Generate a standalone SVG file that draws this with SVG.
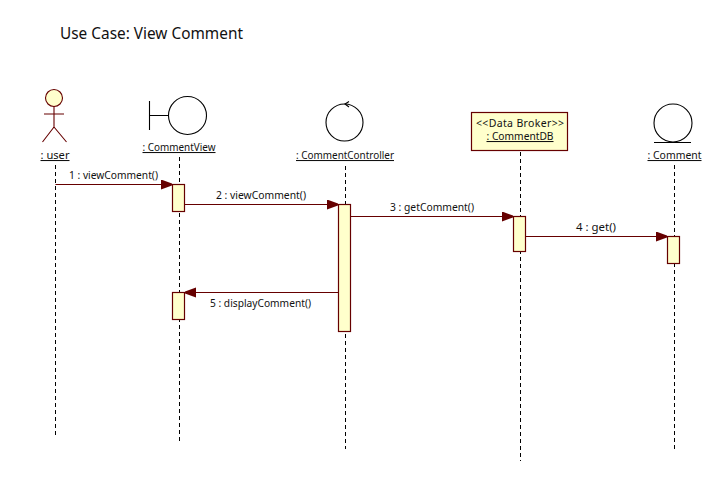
<svg xmlns="http://www.w3.org/2000/svg" width="728" height="481" viewBox="0 0 728 481">
<style>
text{font-family:"Noto Sans","Open Sans",sans-serif;font-size:10.5px;fill:#111}
.u{text-decoration:underline}
.m{text-anchor:middle}
.life{stroke:#000;stroke-width:1;stroke-dasharray:4 3;fill:none}
.act{fill:#ffffcc;stroke:#660000;stroke-width:1.2}
.msg{stroke:#660000;stroke-width:1.2;fill:none;marker-end:url(#ah)}
.ic{fill:#fff;stroke:#000;stroke-width:1.1}
.ln{fill:none;stroke:#000;stroke-width:1.1}
.act-l{fill:none;stroke:#660000;stroke-width:1.1}
</style>
<defs>
<marker id="ah" markerUnits="userSpaceOnUse" markerWidth="12" markerHeight="11" refX="11" refY="5" orient="auto"><path d="M0 0L11 4L11 6L0 10Z" fill="#660000"/></marker>
</defs>
<rect width="728" height="481" fill="#fff"/>
<text x="60" y="39" style="font-size:16px" textLength="183" lengthAdjust="spacingAndGlyphs">Use Case: View Comment</text>
<g id="lifelines">
<path class="life" d="M55.500 165V438"/>
<path class="life" d="M179.500 157V442"/>
<path class="life" d="M345.500 166V449"/>
<path class="life" d="M520.500 152V461"/>
<path class="life" d="M674.500 165V451"/>
</g>
<g id="user">
<circle cx="54" cy="98" r="8.500" fill="#ffffcc" stroke="#660000" stroke-width="1.100"/>
<path class="act-l" d="M54 106.500V127M44 114H64M54 127L42.500 142M54 127L66.500 142"/>
<text class="u m" x="55" y="159" textLength="29" lengthAdjust="spacingAndGlyphs">: user</text>
</g>
<g id="commentview">
<circle class="ic" cx="187.500" cy="115.500" r="19"/>
<path class="ln" d="M149.500 101V130M149.500 115.500H168.500"/>
<text class="u m" x="179" y="151" textLength="73" lengthAdjust="spacingAndGlyphs">: CommentView</text>
</g>
<g id="commentcontroller">
<circle class="ic" cx="344.500" cy="122.500" r="18.500"/>
<path class="ln" d="M349 101.500L345 104L349 107"/>
<text class="u m" x="345" y="159" textLength="98" lengthAdjust="spacingAndGlyphs">: CommentController</text>
</g>
<g id="commentdb">
<rect x="471.500" y="112.500" width="96" height="38" fill="#ffffcc" stroke="#660000" stroke-width="1.200"/>
<text class="m" x="520" y="127" textLength="88" lengthAdjust="spacing">&lt;&lt;Data Broker&gt;&gt;</text>
<text class="u m" x="520" y="140" textLength="67" lengthAdjust="spacingAndGlyphs">: CommentDB</text>
</g>
<g id="comment">
<circle class="ic" cx="673" cy="123" r="19"/>
<path class="ln" d="M654 142.500H691"/>
<text class="u m" x="674.500" y="159" textLength="54" lengthAdjust="spacingAndGlyphs">: Comment</text>
</g>
<g id="activations">
<rect class="act" x="172.500" y="184.500" width="12" height="27"/>
<rect class="act" x="338.500" y="204.500" width="12" height="127"/>
<rect class="act" x="513.500" y="216.500" width="12" height="35"/>
<rect class="act" x="667.500" y="236.500" width="12" height="27"/>
<rect class="act" x="172.500" y="292.500" width="12" height="27"/>
</g>
<g id="connectors">
<path class="msg" d="M55.500 184.500H172"/>
<path class="msg" d="M185 204.500H338"/>
<path class="msg" d="M351 216.500H513"/>
<path class="msg" d="M526 236.500H667"/>
<path class="msg" d="M338 292.500H185"/>
<text x="69" y="179" textLength="89" lengthAdjust="spacingAndGlyphs">1 : viewComment()</text>
<text x="216" y="199" textLength="90" lengthAdjust="spacingAndGlyphs">2 : viewComment()</text>
<text x="390" y="211" textLength="84" lengthAdjust="spacingAndGlyphs">3 : getComment()</text>
<text x="576" y="231" textLength="40" lengthAdjust="spacingAndGlyphs">4 : get()</text>
<text x="210" y="307" textLength="101" lengthAdjust="spacingAndGlyphs">5 : displayComment()</text>
</g>
</svg>
